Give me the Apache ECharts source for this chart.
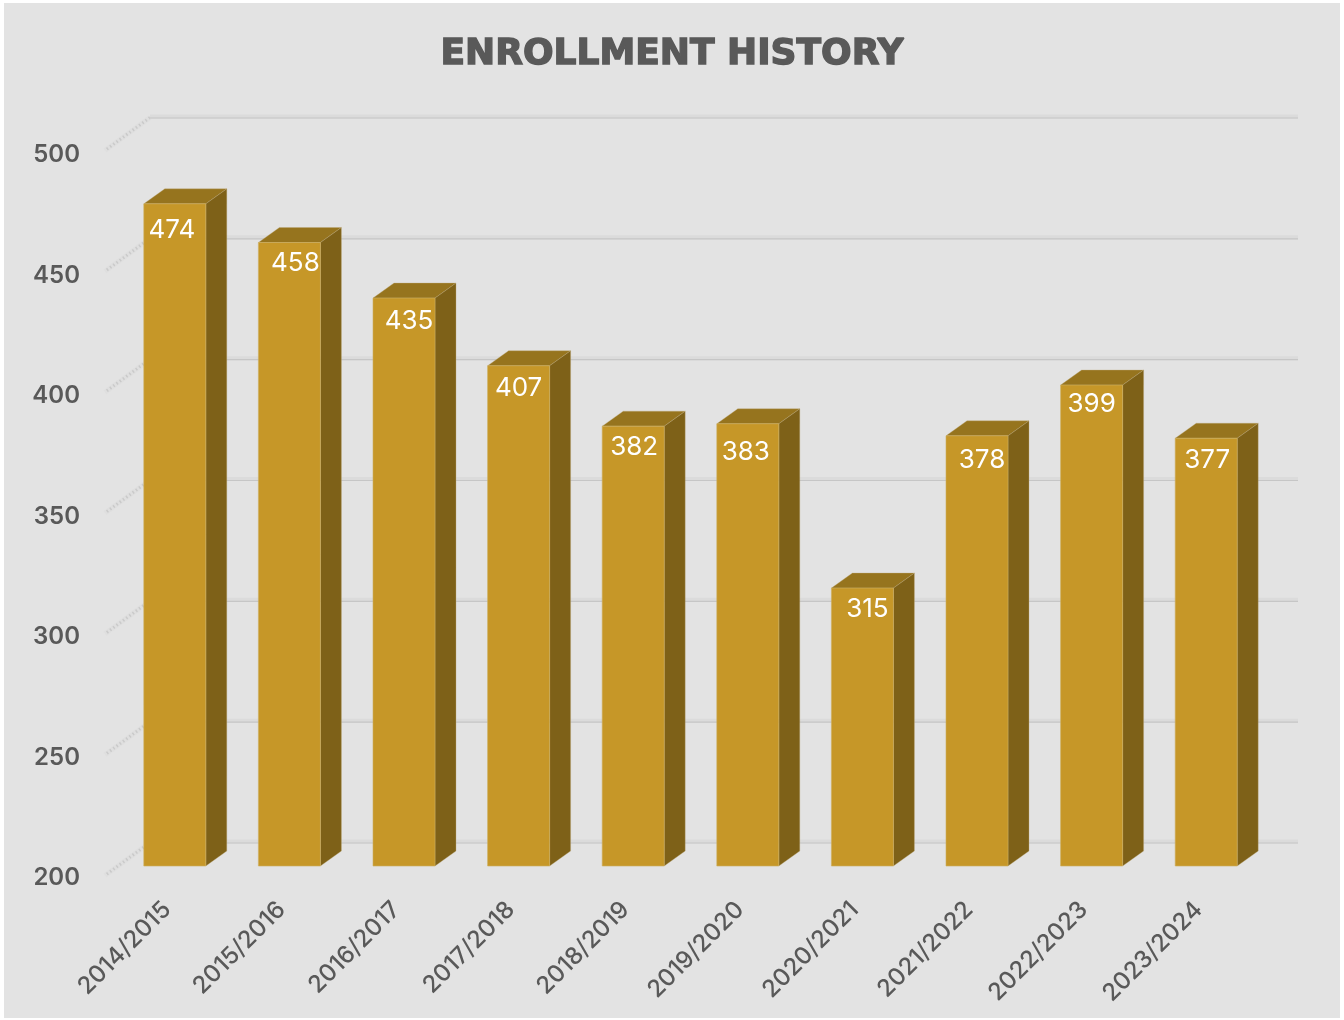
<!DOCTYPE html>
<html><head><meta charset="utf-8">
<script src="https://cdn.jsdelivr.net/npm/echarts@6/dist/echarts.min.js"></script>
<style>
html,body{margin:0;padding:0;background:#fff;width:1344px;height:1020px;overflow:hidden}
#bg{position:absolute;left:4px;top:3px;width:1336px;height:1015px;background:#e3e3e3}
#c{position:absolute;left:0;top:0;width:1344px;height:1020px}
</style></head><body><div id="bg"></div><div id="c"></div>
<script>
const categories = ['2014/2015','2015/2016','2016/2017','2017/2018','2018/2019','2019/2020','2020/2021','2021/2022','2022/2023','2023/2024'];
const enrollment = [474,458,435,407,382,383,315,378,399,377];
const axisTicks = [200,250,300,350,400,450,500];
const titleText = 'ENROLLMENT HISTORY';

// layout (not data): hand-placed label offsets seen in the reference
const labelShiftX = [-3,6,5,0,1,-2,5,5,0,1];
const labelShiftY = [26,21,23,22,21,28,21,24,19,22];
const FONT = 'Inter, "Noto Sans", sans-serif';
const BAR_W = 62, DX = 21, DY = -15;

const chart = echarts.init(document.getElementById('c'), null, {renderer:'canvas'});

function renderBar(params, api){
  const i = api.value(0), v = api.value(1);
  const top = api.coord([i, v]), base = api.coord([i, 200]);
  const x0 = top[0] - BAR_W/2, x1 = x0 + BAR_W, yT = top[1], yB = base[1];
  return {type:'group', children:[
    {type:'polygon', shape:{points:[[x0,yT],[x0+DX,yT+DY],[x1+DX,yT+DY],[x1,yT]]},
      style:{fill:'#96741e', stroke:'rgba(190,170,120,0.35)', lineWidth:1}},
    {type:'polygon', shape:{points:[[x1,yT],[x1+DX,yT+DY],[x1+DX,yB+DY],[x1,yB]]},
      style:{fill:'#7e6118', stroke:'rgba(190,170,120,0.35)', lineWidth:1}},
    {type:'rect', shape:{x:x0,y:yT,width:BAR_W,height:yB-yT},
      style:{fill:'#c69728', stroke:'rgba(205,175,95,0.6)', lineWidth:1}},
    {type:'text', x:top[0]+labelShiftX[i], y:yT+labelShiftY[i],
      style:{text:String(v), fill:'#ffffff', font:'400 26px '+FONT, align:'center', verticalAlign:'middle'}}
  ]};
}

function renderWall(params, api){
  const v = api.value(0);
  const a = api.coord([0, v]), b = api.coord([1, v]);
  const front = [a[0]-45, a[1]+33];
  return {type:'group', children:[
    {type:'line', shape:{x1:a[0],y1:a[1]-1,x2:b[0],y2:b[1]-1}, style:{stroke:'#dbdbdb', lineWidth:4}},
    {type:'line', shape:{x1:a[0],y1:a[1]+0.5,x2:b[0],y2:b[1]+0.5}, style:{stroke:'#c6c6c6', lineWidth:1.2}},
    {type:'line', shape:{x1:a[0],y1:a[1],x2:front[0],y2:front[1]}, style:{stroke:'#dfdfdf', lineWidth:5}},
    {type:'line', shape:{x1:a[0],y1:a[1],x2:front[0],y2:front[1]}, style:{stroke:'#cacaca', lineWidth:3, lineDash:[1.5,2.5]}}
  ]};
}

chart.setOption({
  backgroundColor:'transparent',
  animation:false,
  title:{text:titleText, left:'center', top:32,
    textStyle:{fontFamily:'"DejaVu Sans", sans-serif', fontWeight:700, fontSize:36, color:'#595959',
      textBorderColor:'#595959', textBorderWidth:1.4}},
  grid:[
    {left:117.5, top:141, width:1146, height:725},   // bars
    {left:150, top:117.5, width:1148, height:725}, // back wall
    {left:88, top:155, width:10, height:723}       // tick label axis
  ],
  xAxis:[
    {gridIndex:0, type:'category', data:categories,
      axisLine:{show:false}, axisTick:{show:false}, splitLine:{show:false},
      axisLabel:{rotate:45, margin:32, padding:[0,11,0,0], interval:0, color:'#595959', fontFamily:FONT, fontWeight:500, fontSize:24}},
    {gridIndex:1, type:'value', min:0, max:1, show:false},
    {gridIndex:2, type:'value', min:0, max:1, show:false}
  ],
  yAxis:[
    {gridIndex:0, type:'value', min:200, max:500, interval:50, show:false},
    {gridIndex:1, type:'value', min:200, max:500, interval:50, show:false},
    {gridIndex:2, type:'value', min:200, max:500, interval:50,
      axisLine:{show:false}, axisTick:{show:false}, splitLine:{show:false},
      axisLabel:{margin:8, color:'#595959', fontFamily:FONT, fontWeight:600, fontSize:24}}
  ],
  series:[
    {type:'custom', name:'wall', xAxisIndex:1, yAxisIndex:1, z:1, clip:false, silent:true,
      renderItem:renderWall, data:axisTicks.map(t=>[t]), encode:{y:0}},
    {type:'custom', name:'Enrollment', xAxisIndex:0, yAxisIndex:0, z:2, clip:false,
      renderItem:renderBar, data:enrollment.map((v,i)=>[i,v]), encode:{x:0,y:1}}
  ]
});
</script></body></html>
